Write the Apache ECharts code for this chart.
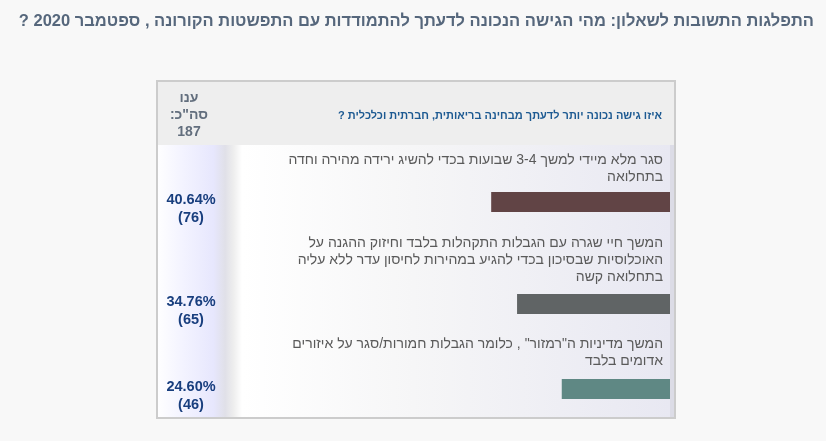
<!DOCTYPE html>
<html lang="he">
<head>
<meta charset="utf-8">
<title>התפלגות התשובות לשאלון</title>
<script src="https://cdn.jsdelivr.net/npm/echarts@6/dist/echarts.min.js"></script>
<style>
    html, body { margin: 0; padding: 0; background: #f8f8f8; }
    #chart { width: 826px; height: 441px; }
</style>
</head>
<body>
<div id="chart" dir="rtl"></div>
<script>
const title = 'התפלגות התשובות לשאלון: מהי הגישה הנכונה לדעתך להתמודדות עם התפשטות הקורונה , ספטמבר 2020 ?';
const question = 'איזו גישה נכונה יותר לדעתך מבחינה בריאותית, חברתית וכלכלית ?';
const totalLabel = ['ענו', 'סה"כ:'];
const total = 187;

const answers = [
    ['סגר מלא מיידי למשך 3-4 שבועות בכדי להשיג ירידה מהירה וחדה', 'בתחלואה'],
    ['המשך חיי שגרה עם הגבלות התקהלות בלבד וחיזוק ההגנה על', 'האוכלוסיות שבסיכון בכדי להגיע במהירות לחיסון עדר ללא עליה', 'בתחלואה קשה'],
    ['המשך מדיניות ה"רמזור" , כלומר הגבלות חמורות/סגר על איזורים', 'אדומים בלבד']
];
const percents = [40.64, 34.76, 24.60];
const counts = [76, 65, 46];
const barColors = ['#614445', '#606465', '#5f8884'];

// layout of each row: top of the answer text and top of its bar
const textTops = [151.5, 234.8, 336];
const barTops = [192, 294, 379];

const FONT = 'Arial, "Liberation Sans", "DejaVu Sans", sans-serif';
const BAR_H = 20;

const chart = echarts.init(document.getElementById('chart'), null, { renderer: 'canvas' });

/**
 * horizontal gradient
 */
function hGrad(stops) {
    return new echarts.graphic.LinearGradient(0, 0, 1, 0,
        stops.map(([offset, color]) => ({ offset, color })));
}

const graphic = [
    // frame
    { type: 'rect', z: -10, shape: { x: 156, y: 80, width: 520, height: 339 }, style: { fill: '#cccccc' } },
    { type: 'rect', z: -9, shape: { x: 158, y: 82, width: 516, height: 335 }, style: { fill: '#ffffff' } },
    // header row
    { type: 'rect', z: -8, shape: { x: 158, y: 82, width: 516, height: 63 }, style: { fill: '#eeeeee' } },
    // body, left column
    {
        type: 'rect', z: -8, shape: { x: 158, y: 145, width: 84, height: 272 },
        style: {
            fill: hGrad([[0, '#fefeff'], [0.3, '#f3f3ff'], [0.66, '#e7e7fd'], [0.8, '#e0e0e8'], [0.9, '#eeeeee'], [1, '#ffffff']])
        }
    },
    // body, answers column
    {
        type: 'rect', z: -8, shape: { x: 242, y: 145, width: 428, height: 272 },
        style: { fill: hGrad([[0, '#ffffff'], [0.4, '#f6f6f7'], [1, '#e8e8f2']]) }
    },
    { type: 'rect', z: -8, shape: { x: 670, y: 145, width: 4, height: 272 }, style: { fill: '#dcdce6' } },
    // title
    {
        type: 'text', x: 814, y: 21,
        style: {
            text: title, align: 'right', verticalAlign: 'middle',
            font: 'bold 16.5px ' + FONT, fill: '#56677c'
        }
    },
    // header cells
    {
        type: 'text', x: 189, y: 90,
        style: {
            text: totalLabel.concat(String(total)).join('\n'), align: 'center', verticalAlign: 'top',
            lineHeight: 16.7, font: 'bold 14px ' + FONT, fill: '#626e7d'
        }
    },
    {
        type: 'text', x: 662, y: 115.5,
        style: {
            text: question, align: 'right', verticalAlign: 'middle',
            font: 'bold 11px ' + FONT, fill: '#1d5a92'
        }
    }
];

answers.forEach((lines, i) => {
    graphic.push({
        type: 'text', x: 663, y: textTops[i],
        style: {
            text: lines.join('\n'), align: 'right', verticalAlign: 'top',
            lineHeight: 17, font: '14px ' + FONT, fill: '#5a5a5a'
        }
    });
    graphic.push({
        type: 'text', x: 191, y: barTops[i] + BAR_H / 2 - 11,
        style: {
            text: percents[i].toFixed(2) + '%\n(' + counts[i] + ')', align: 'center', verticalAlign: 'top',
            lineHeight: 18, font: 'bold 14.5px ' + FONT, fill: '#183e7e'
        }
    });
});

const grid = [], xAxis = [], yAxis = [], series = [];
percents.forEach((value, i) => {
    grid.push({ left: 230, right: 156, top: barTops[i], height: BAR_H });
    xAxis.push({ type: 'value', gridIndex: i, min: 0, max: 100, inverse: true, show: false });
    yAxis.push({ type: 'category', gridIndex: i, data: [answers[i].join(' ')], show: false });
    series.push({
        type: 'bar', xAxisIndex: i, yAxisIndex: i, data: [value],
        barWidth: BAR_H, itemStyle: { color: barColors[i] }, silent: true
    });
});

chart.setOption({
    backgroundColor: '#f8f8f8',
    animation: false,
    grid, xAxis, yAxis, series, graphic
});

window.addEventListener('resize', () => chart.resize());
</script>
</body>
</html>
